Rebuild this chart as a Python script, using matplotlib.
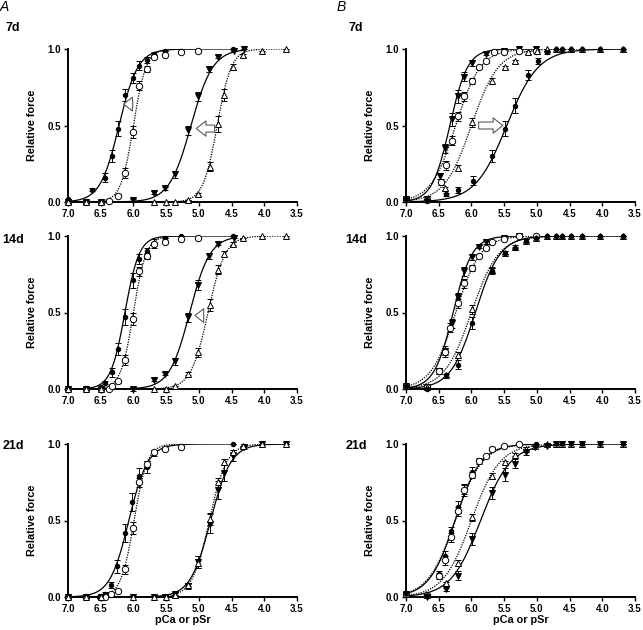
import numpy as np
import matplotlib
matplotlib.use("Agg")
import matplotlib.pyplot as plt

plt.rcParams['font.family'] = ['Liberation Sans', 'DejaVu Sans']

# ---------------- data ----------------
# Column A, 7d
a7_caf_x = [7.0, 6.64, 6.43, 6.32, 6.24, 6.13, 6.01, 5.91, 5.80, 5.69, 5.52, 5.27, 4.48]
a7_caf_y = [0.02, 0.08, 0.16, 0.30, 0.48, 0.70, 0.81, 0.89, 0.93, 0.97, 0.99, 0.99, 1.0]
a7_caf_e = [0.0, 0.01, 0.03, 0.04, 0.05, 0.04, 0.03, 0.03, 0.02, 0.01, 0.0, 0.0, 0.0]
a7_cao_x = [7.0, 6.72, 6.5, 6.37, 6.24, 6.13, 6.0, 5.91, 5.80, 5.68, 5.52, 5.27, 5.02]
a7_cao_y = [0.0, 0.0, 0.0, 0.005, 0.04, 0.19, 0.46, 0.76, 0.87, 0.95, 0.96, 0.98, 0.99]
a7_cao_e = [0.0, 0.0, 0.0, 0.0, 0.01, 0.03, 0.04, 0.03, 0.02, 0.01, 0.0, 0.0, 0.0]
a7_srf_x = [7.0, 6.72, 6.5, 6.0, 5.69, 5.51, 5.37, 5.17, 5.01, 4.84, 4.70, 4.47, 4.31]
a7_srf_y = [0.0, 0.0, 0.0, 0.01, 0.06, 0.09, 0.18, 0.47, 0.69, 0.87, 0.95, 0.99, 1.0]
a7_srf_e = [0.0, 0.0, 0.0, 0.01, 0.01, 0.01, 0.02, 0.03, 0.03, 0.02, 0.01, 0.0, 0.0]
a7_sro_x = [7.0, 6.72, 6.5, 5.68, 5.5, 5.37, 5.17, 5.02, 4.83, 4.71, 4.61, 4.48, 4.32, 4.03, 3.67]
a7_sro_y = [0.0, 0.0, 0.0, 0.0, 0.0, 0.0, 0.01, 0.05, 0.23, 0.51, 0.70, 0.88, 0.96, 0.99, 1.0]
a7_sro_e = [0.0, 0.0, 0.0, 0.0, 0.0, 0.0, 0.0, 0.01, 0.03, 0.05, 0.04, 0.02, 0.01, 0.0, 0.0]
# Hill fit parameters (pCa50 / pSr50, nH) per series
a7_fits = [(6.22, 3.0), (6.0, 4.5), (5.12, 2.6), (4.72, 4.0)]

# Column A, 14d
a14_caf_x = [7.0, 6.72, 6.5, 6.43, 6.32, 6.24, 6.13, 6.01, 5.91, 5.80, 5.69, 5.52, 5.27, 4.48]
a14_caf_y = [0.0, 0.0, 0.01, 0.04, 0.11, 0.26, 0.47, 0.71, 0.85, 0.90, 0.95, 0.99, 1.0, 1.0]
a14_caf_e = [0.0, 0.0, 0.0, 0.01, 0.03, 0.04, 0.05, 0.05, 0.03, 0.02, 0.03, 0.0, 0.0, 0.0]
a14_cao_x = [7.0, 6.72, 6.5, 6.37, 6.32, 6.24, 6.13, 6.0, 5.91, 5.80, 5.68, 5.52, 5.27, 5.02]
a14_cao_y = [0.0, 0.0, 0.0, 0.0, 0.02, 0.05, 0.19, 0.46, 0.77, 0.87, 0.95, 0.96, 0.98, 0.99]
a14_cao_e = [0.0, 0.0, 0.0, 0.0, 0.01, 0.01, 0.03, 0.04, 0.03, 0.02, 0.01, 0.0, 0.0, 0.0]
a14_srf_x = [7.0, 6.72, 6.5, 6.0, 5.69, 5.51, 5.37, 5.17, 5.01, 4.84, 4.70, 4.47]
a14_srf_y = [0.0, 0.0, 0.0, 0.0, 0.06, 0.10, 0.18, 0.47, 0.68, 0.87, 0.95, 0.99]
a14_srf_e = [0.0, 0.0, 0.0, 0.01, 0.01, 0.01, 0.02, 0.03, 0.03, 0.02, 0.01, 0.0]
a14_sro_x = [7.0, 6.72, 6.5, 5.68, 5.5, 5.37, 5.17, 5.01, 4.83, 4.70, 4.61, 4.48, 4.32, 4.03, 3.67]
a14_sro_y = [0.0, 0.0, 0.0, 0.0, 0.0, 0.02, 0.10, 0.24, 0.55, 0.78, 0.88, 0.95, 0.99, 1.0, 1.0]
a14_sro_e = [0.0, 0.0, 0.0, 0.0, 0.0, 0.0, 0.01, 0.03, 0.04, 0.03, 0.02, 0.01, 0.0, 0.0, 0.0]
a14_fits = [(6.13, 4.0), (6.0, 4.5), (5.14, 2.8), (4.86, 3.3)]

# Column A, 21d
a21_caf_x = [7.0, 6.72, 6.52, 6.43, 6.35, 6.25, 6.13, 6.02, 5.91, 5.80, 5.69, 5.52, 5.27, 4.48]
a21_caf_y = [0.0, 0.0, 0.0, 0.02, 0.08, 0.20, 0.42, 0.62, 0.79, 0.85, 0.94, 0.97, 0.99, 1.0]
a21_caf_e = [0.0, 0.0, 0.0, 0.01, 0.02, 0.04, 0.06, 0.06, 0.05, 0.04, 0.02, 0.01, 0.0, 0.0]
a21_cao_x = [7.0, 6.72, 6.5, 6.43, 6.35, 6.24, 6.13, 6.01, 5.91, 5.80, 5.68, 5.52, 5.27]
a21_cao_y = [0.0, 0.0, 0.0, 0.0, 0.02, 0.04, 0.18, 0.45, 0.75, 0.87, 0.95, 0.97, 0.98]
a21_cao_e = [0.0, 0.0, 0.0, 0.0, 0.01, 0.01, 0.03, 0.04, 0.03, 0.02, 0.01, 0.0, 0.0]
a21_srf_x = [7.0, 6.72, 6.5, 6.0, 5.69, 5.51, 5.37, 5.17, 5.01, 4.83, 4.71, 4.61, 4.48, 4.31, 4.03, 3.67]
a21_srf_y = [0.0, 0.0, 0.0, 0.0, 0.0, 0.0, 0.02, 0.07, 0.23, 0.48, 0.70, 0.81, 0.92, 0.98, 1.0, 1.0]
a21_srf_e = [0.0, 0.0, 0.0, 0.0, 0.0, 0.0, 0.01, 0.02, 0.04, 0.06, 0.06, 0.05, 0.03, 0.01, 0.0, 0.0]
a21_sro_x = [7.0, 6.72, 6.5, 6.0, 5.68, 5.5, 5.37, 5.17, 5.01, 4.83, 4.71, 4.61, 4.48, 4.32, 4.03, 3.67]
a21_sro_y = [0.0, 0.0, 0.0, 0.0, 0.0, 0.0, 0.01, 0.08, 0.22, 0.51, 0.75, 0.88, 0.95, 0.99, 1.0, 1.0]
a21_sro_e = [0.0, 0.0, 0.0, 0.0, 0.0, 0.0, 0.0, 0.01, 0.03, 0.04, 0.03, 0.02, 0.01, 0.0, 0.0, 0.0]
a21_fits = [(6.07, 3.0), (5.99, 4.3), (4.82, 2.8), (4.84, 3.3)]

# Column B, 7d
b7_lf_x = [7.0, 6.68, 6.48, 6.40, 6.30, 6.21, 6.12, 5.99, 5.78, 5.50, 5.27, 5.02]
b7_lf_y = [0.02, 0.02, 0.17, 0.35, 0.54, 0.69, 0.82, 0.91, 0.97, 0.99, 1.0, 1.0]
b7_lf_e = [0.01, 0.0, 0.02, 0.03, 0.04, 0.04, 0.03, 0.02, 0.01, 0.0, 0.0, 0.0]
b7_lo_x = [7.0, 6.68, 6.47, 6.39, 6.29, 6.20, 6.11, 5.99, 5.88, 5.78, 5.65, 5.50, 5.27, 5.02]
b7_lo_y = [0.02, 0.01, 0.13, 0.24, 0.40, 0.56, 0.69, 0.79, 0.88, 0.92, 0.98, 0.98, 0.99, 0.99]
b7_lo_e = [0.01, 0.0, 0.02, 0.03, 0.03, 0.03, 0.03, 0.02, 0.01, 0.01, 0.0, 0.0, 0.0, 0.0]
b7_mo_x = [7.0, 6.40, 6.20, 5.99, 5.68, 5.49, 5.33, 5.13, 5.0, 4.85, 4.70, 4.61, 4.48, 4.31, 4.04, 3.68]
b7_mo_y = [0.02, 0.09, 0.22, 0.52, 0.79, 0.88, 0.92, 0.98, 0.99, 1.0, 1.0, 1.0, 1.0, 1.0, 1.0, 1.0]
b7_mo_e = [0.01, 0.01, 0.02, 0.03, 0.02, 0.01, 0.01, 0.01, 0.01, 0.0, 0.0, 0.0, 0.0, 0.0, 0.0, 0.0]
b7_rf_x = [7.0, 6.68, 6.39, 6.20, 5.98, 5.68, 5.48, 5.34, 5.14, 4.99, 4.85, 4.70, 4.61, 4.48, 4.31, 4.04, 3.68]
b7_rf_y = [0.02, 0.01, 0.05, 0.08, 0.14, 0.30, 0.48, 0.63, 0.83, 0.92, 0.98, 1.0, 1.0, 1.0, 1.0, 1.0, 1.0]
b7_rf_e = [0.01, 0.0, 0.01, 0.02, 0.03, 0.04, 0.05, 0.05, 0.03, 0.02, 0.01, 0.0, 0.0, 0.0, 0.0, 0.0, 0.0]
b7_fits = [(6.33, 3.2), (6.24, 2.3), (6.0, 2.1), (5.46, 1.8)]

# Column B, 14d
b14_lf_x = [7.0, 6.68, 6.50, 6.40, 6.30, 6.21, 6.12, 5.99, 5.88, 5.78, 5.50, 5.27]
b14_lf_y = [0.02, 0.01, 0.12, 0.25, 0.43, 0.60, 0.77, 0.86, 0.93, 0.96, 0.99, 1.0]
b14_lf_e = [0.01, 0.0, 0.02, 0.03, 0.03, 0.03, 0.03, 0.02, 0.01, 0.01, 0.0, 0.0]
b14_lo_x = [7.0, 6.68, 6.49, 6.40, 6.32, 6.21, 6.11, 5.99, 5.88, 5.78, 5.68, 5.50, 5.27, 5.02]
b14_lo_y = [0.02, 0.01, 0.12, 0.24, 0.40, 0.56, 0.69, 0.79, 0.87, 0.92, 0.96, 0.98, 1.0, 1.0]
b14_lo_e = [0.01, 0.0, 0.02, 0.03, 0.03, 0.03, 0.03, 0.02, 0.01, 0.01, 0.0, 0.0, 0.0, 0.0]
b14_mo_x = [7.0, 6.68, 6.39, 6.21, 5.99, 5.68, 5.49, 5.33, 5.17, 5.02, 4.85, 4.70, 4.61, 4.48, 4.31, 4.04, 3.68]
b14_mo_y = [0.02, 0.01, 0.09, 0.22, 0.52, 0.78, 0.89, 0.93, 0.97, 0.99, 1.0, 1.0, 1.0, 1.0, 1.0, 1.0, 1.0]
b14_mo_e = [0.01, 0.0, 0.01, 0.02, 0.03, 0.02, 0.01, 0.01, 0.01, 0.0, 0.0, 0.0, 0.0, 0.0, 0.0, 0.0, 0.0]
b14_rf_x = [7.0, 6.68, 6.39, 6.21, 5.99, 5.68, 5.49, 5.34, 5.17, 5.02, 4.85, 4.70, 4.61, 4.48, 4.31, 4.04, 3.68]
b14_rf_y = [0.02, 0.0, 0.09, 0.16, 0.43, 0.77, 0.89, 0.92, 0.97, 0.99, 1.0, 1.0, 1.0, 1.0, 1.0, 1.0, 1.0]
b14_rf_e = [0.01, 0.0, 0.01, 0.03, 0.04, 0.02, 0.01, 0.01, 0.01, 0.0, 0.0, 0.0, 0.0, 0.0, 0.0, 0.0, 0.0]
b14_fits = [(6.28, 3.0), (6.24, 2.3), (6.0, 2.1), (5.94, 2.3)]

# Column B, 21d
b21_lf_x = [7.0, 6.68, 6.49, 6.40, 6.31, 6.21, 6.12, 5.99, 5.88, 5.68, 5.50, 5.27, 5.02]
b21_lf_y = [0.02, 0.01, 0.15, 0.27, 0.43, 0.59, 0.70, 0.82, 0.89, 0.97, 0.99, 1.0, 1.0]
b21_lf_e = [0.01, 0.0, 0.02, 0.03, 0.03, 0.04, 0.04, 0.03, 0.02, 0.01, 0.0, 0.0, 0.0]
b21_lo_x = [7.0, 6.68, 6.49, 6.40, 6.31, 6.21, 6.12, 5.99, 5.88, 5.78, 5.68, 5.50, 5.27]
b21_lo_y = [0.02, 0.01, 0.14, 0.24, 0.39, 0.56, 0.70, 0.80, 0.89, 0.92, 0.97, 0.99, 1.0]
b21_lo_e = [0.01, 0.0, 0.02, 0.03, 0.03, 0.03, 0.03, 0.02, 0.01, 0.01, 0.0, 0.0, 0.0]
b21_mo_x = [7.0, 6.68, 6.39, 6.21, 5.99, 5.68, 5.49, 5.33, 5.17, 5.03, 4.85, 4.70, 4.61, 4.48, 4.31, 4.04, 3.68]
b21_mo_y = [0.02, 0.01, 0.09, 0.22, 0.52, 0.79, 0.88, 0.93, 0.97, 0.99, 1.0, 1.0, 1.0, 1.0, 1.0, 1.0, 1.0]
b21_mo_e = [0.01, 0.0, 0.01, 0.02, 0.02, 0.02, 0.01, 0.01, 0.01, 0.0, 0.0, 0.0, 0.0, 0.0, 0.0, 0.0, 0.0]
b21_rf_x = [7.0, 6.68, 6.39, 6.21, 5.99, 5.68, 5.49, 5.33, 5.17, 5.03, 4.85, 4.70, 4.61, 4.48, 4.31, 4.04, 3.68]
b21_rf_y = [0.02, 0.0, 0.05, 0.14, 0.38, 0.68, 0.80, 0.87, 0.95, 0.98, 0.99, 1.0, 1.0, 1.0, 1.0, 1.0, 1.0]
b21_rf_e = [0.01, 0.0, 0.01, 0.03, 0.04, 0.04, 0.04, 0.03, 0.02, 0.01, 0.0, 0.0, 0.0, 0.0, 0.0, 0.0, 0.0]
b21_fits = [(6.25, 2.2), (6.25, 2.1), (6.0, 2.0), (5.86, 1.9)]

# open block arrows: (tail x, head x, y, size)
a7_arrows = [(6.01, 6.15, 0.64, 9), (4.76, 5.04, 0.48, 10)]
a14_arrows = [(4.93, 5.06, 0.48, 9)]
b7_arrows = [(5.89, 5.52, 0.50, 10)]

x_ticks = [7.0, 6.5, 6.0, 5.5, 5.0, 4.5, 4.0, 3.5]
y_ticks = [0.0, 0.5, 1.0]
row_labels = ['7d', '14d', '21d']

# marker styles: filled solid-line / open dotted-line
STY = {
    'fo': dict(marker='o', ms=3.2, mfc='black', mec='black', ls='-'),
    'fv': dict(marker='v', ms=4.0, mfc='black', mec='black', ls='-'),
    'oo': dict(marker='o', ms=4.6, mfc='white', mec='black', ls=(0, (1, 1))),
    'ot': dict(marker='^', ms=4.6, mfc='white', mec='black', ls=(0, (1, 1))),
}


def hill(x, p50, nh):
    return 1.0 / (1.0 + 10 ** (nh * (x - p50)))


def draw(ax, x, y, e, fit, kind):
    s = STY[kind]
    xs = np.linspace(7.0, min(x), 300)
    ax.plot(xs, hill(xs, *fit), color='black', lw=0.9, ls=s['ls'], zorder=2)
    ax.errorbar(x, y, yerr=e, fmt='none', ecolor='black', elinewidth=0.7,
                capsize=2, capthick=0.7, zorder=3, clip_on=False)
    ax.plot(x, y, ls='none', marker=s['marker'], ms=s['ms'], mfc=s['mfc'],
            mec=s['mec'], mew=0.7, zorder=4, clip_on=False)


def add_arrows(ax, arrows):
    for tail, head, yy, size in arrows:
        ax.annotate('', xy=(head, yy), xytext=(tail, yy),
                    arrowprops=dict(arrowstyle='simple,head_length=0.7,head_width=1.1,tail_width=0.5',
                                    fc='white', ec='0.35', lw=0.8, mutation_scale=size,
                                    shrinkA=0, shrinkB=0), zorder=5)


panels_a = [
    [(a7_caf_x, a7_caf_y, a7_caf_e, 'fo'), (a7_cao_x, a7_cao_y, a7_cao_e, 'oo'),
     (a7_srf_x, a7_srf_y, a7_srf_e, 'fv'), (a7_sro_x, a7_sro_y, a7_sro_e, 'ot')],
    [(a14_caf_x, a14_caf_y, a14_caf_e, 'fo'), (a14_cao_x, a14_cao_y, a14_cao_e, 'oo'),
     (a14_srf_x, a14_srf_y, a14_srf_e, 'fv'), (a14_sro_x, a14_sro_y, a14_sro_e, 'ot')],
    [(a21_caf_x, a21_caf_y, a21_caf_e, 'fo'), (a21_cao_x, a21_cao_y, a21_cao_e, 'oo'),
     (a21_srf_x, a21_srf_y, a21_srf_e, 'fv'), (a21_sro_x, a21_sro_y, a21_sro_e, 'ot')],
]
panels_b = [
    [(b7_lf_x, b7_lf_y, b7_lf_e, 'fv'), (b7_lo_x, b7_lo_y, b7_lo_e, 'oo'),
     (b7_mo_x, b7_mo_y, b7_mo_e, 'ot'), (b7_rf_x, b7_rf_y, b7_rf_e, 'fo')],
    [(b14_lf_x, b14_lf_y, b14_lf_e, 'fv'), (b14_lo_x, b14_lo_y, b14_lo_e, 'oo'),
     (b14_mo_x, b14_mo_y, b14_mo_e, 'ot'), (b14_rf_x, b14_rf_y, b14_rf_e, 'fo')],
    [(b21_lf_x, b21_lf_y, b21_lf_e, 'fo'), (b21_lo_x, b21_lo_y, b21_lo_e, 'oo'),
     (b21_mo_x, b21_mo_y, b21_mo_e, 'ot'), (b21_rf_x, b21_rf_y, b21_rf_e, 'fv')],
]
fits_a = [a7_fits, a14_fits, a21_fits]
fits_b = [b7_fits, b14_fits, b21_fits]
arrows_a = [a7_arrows, a14_arrows, []]
arrows_b = [b7_arrows, [], []]

W, H = 643, 630
fig = plt.figure(figsize=(W / 100, H / 100), dpi=100)

col_left = [68, 406]
ax_w = 229
row_top = [49, 236, 444]
ax_h = 153

for col in range(2):
    panels = panels_a if col == 0 else panels_b
    fits = fits_a if col == 0 else fits_b
    arrows = arrows_a if col == 0 else arrows_b
    for row in range(3):
        l = col_left[col] / W
        b = 1 - (row_top[row] + ax_h) / H
        ax = fig.add_axes([l, b, ax_w / W, ax_h / H])
        for (x, y, e, kind), fit in zip(panels[row], fits[row]):
            draw(ax, x, y, e, fit, kind)
        add_arrows(ax, arrows[row])
        ax.set_xlim(7.0, 3.5)
        ax.set_ylim(0, 1.0)
        ax.set_xticks(x_ticks)
        ax.set_xticklabels([f'{t:.1f}' for t in x_ticks], fontsize=7, fontweight='bold')
        ax.set_yticks(y_ticks)
        ax.set_yticklabels([f'{t:.1f}' for t in y_ticks], fontsize=7, fontweight='bold')
        for side in ['top', 'right']:
            ax.spines[side].set_visible(False)
        for side in ['left', 'bottom']:
            ax.spines[side].set_linewidth(1.4)
        ax.tick_params(length=3, width=1.0, pad=2)
        ax.set_ylabel('Relative force', fontsize=7.8, fontweight='bold')
        ax.yaxis.set_label_coords(-31 / ax_w, 0.5)
        if row == 2:
            ax.set_xlabel('pCa or pSr', fontsize=7.8, fontweight='bold')
            ax.xaxis.set_label_coords(0.5, -18 / ax_h)
        lx = 13 if col == 0 else 356
        ly = [28, 240, 446][row]
        fig.text(lx / W, 1 - ly / H, row_labels[row], fontsize=9, fontweight='bold',
                 ha='center', va='center')

fig.text(4 / W, 1 - 7 / H, 'A', fontsize=10, style='italic', ha='center', va='center')
fig.text(341 / W, 1 - 7 / H, 'B', fontsize=10, style='italic', ha='center', va='center')

fig.savefig('out.png', dpi=100)
